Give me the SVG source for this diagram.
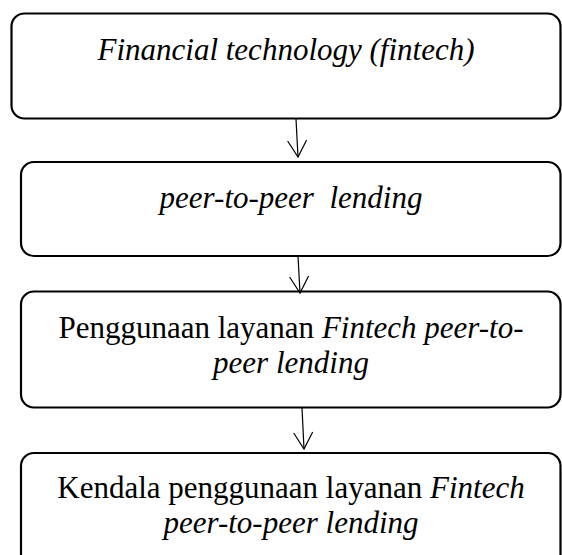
<svg xmlns="http://www.w3.org/2000/svg" width="562" height="555" viewBox="0 0 562 555">
  <style>
    .box { fill: #ffffff; stroke: #000000; stroke-width: 2.2; }
    .t { font-family: "Liberation Serif", "Times New Roman", serif; font-size: 31px; fill: #000000; text-anchor: middle; white-space: pre; }
    .i { font-style: italic; }
    .conn { stroke: #000000; stroke-width: 1.2; fill: none; }
  </style>
  <defs>
    <marker id="arrow" markerUnits="userSpaceOnUse" markerWidth="40" markerHeight="40" refX="0" refY="0" viewBox="-20 -20 40 40" orient="auto" overflow="visible">
      <path d="M-16.5,-9.5 L0,0 L-16.5,9.5" fill="none" stroke="#000000" stroke-width="1.2"/>
    </marker>
  </defs>
  <rect width="562" height="555" fill="#ffffff"/>

  <g id="node1">
    <rect class="box" x="11.5" y="13.5" width="549" height="105" rx="13"/>
    <text class="t i" x="286" y="60">Financial technology (fintech)</text>
  </g>

  <g id="node2">
    <rect class="box" x="21" y="162" width="539.5" height="94" rx="13"/>
    <text class="t i" x="291" y="208">peer-to-peer  lending</text>
  </g>

  <g id="node3">
    <rect class="box" x="21" y="291.5" width="539.5" height="116" rx="13"/>
    <text class="t" x="291" y="338">Penggunaan layanan <tspan class="i">Fintech peer-to-</tspan></text>
    <text class="t i" x="291" y="373">peer lending</text>
  </g>

  <g id="node4">
    <rect class="box" x="21" y="453" width="539.5" height="130" rx="13"/>
    <text class="t" x="291" y="498">Kendala penggunaan layanan <tspan class="i">Fintech</tspan></text>
    <text class="t i" x="291" y="533">peer-to-peer lending</text>
  </g>

  <g id="connectors">
    <path class="conn" d="M296,119 L298,157" marker-end="url(#arrow)"/>
    <path class="conn" d="M298,256 L300,293" marker-end="url(#arrow)"/>
    <path class="conn" d="M302,408 L304,449" marker-end="url(#arrow)"/>
  </g>
</svg>
